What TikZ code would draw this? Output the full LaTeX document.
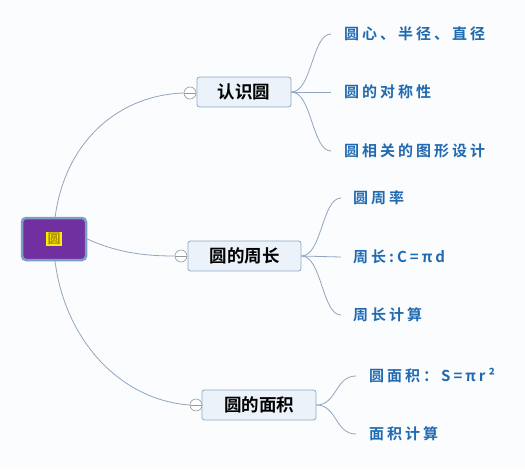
\documentclass[tikz,border=0pt]{standalone}
\usepackage{fontspec}
\newfontfamily\cjk{Noto Sans CJK SC}
\newfontfamily\cjkb{Noto Sans CJK SC Bold}
\newfontfamily\cjkbs[LetterSpace=20]{Noto Sans CJK SC Bold}
\definecolor{bg}{HTML}{FBFCFD}
\definecolor{lin}{HTML}{8EA6C0}
\definecolor{boxfill}{HTML}{EBF2F9}
\definecolor{boxdraw}{HTML}{8FA9C6}
\definecolor{rootfill}{HTML}{7030A0}
\definecolor{rootdraw}{HTML}{7D9DC4}
\definecolor{leafc}{HTML}{1F6AB0}
\definecolor{hl}{HTML}{FFEB00}
\definecolor{hltext}{HTML}{A88A00}
\tikzset{
  conn/.style={draw=lin, line width=0.8pt},
  topic/.style={draw=boxdraw, fill=boxfill, rounded corners=2.5pt, line width=0.8pt, font=\cjkb\fontsize{17.5}{17.5}\selectfont, text=black, inner sep=0pt},
  leaf/.style={font=\cjkbs\fontsize{15}{15}\selectfont, text=leafc, anchor=west, inner sep=0pt},
  knob/.style={circle, draw=gray!80, fill=white, line width=0.6pt, minimum size=12pt, inner sep=0pt},
}
\begin{document}
\begin{tikzpicture}[x=1pt,y=-1pt]
\fill[bg] (0,0) rectangle (525,469);
\useasboundingbox (0,0) rectangle (525,469);
% root
\node[draw=rootdraw, fill=rootfill, line width=2.5pt, rounded corners=4pt, minimum width=64pt, minimum height=42pt, inner sep=0pt] (root) at (54,239) {};
\node[fill=hl, text=hltext, font=\cjkb\fontsize{13}{13}\selectfont, inner sep=1.2pt] (roott) at (root.center) {圆};
% topics
\node[topic, minimum width=94pt, minimum height=30pt] (t1) at (244,92) {认识圆};
\node[topic, minimum width=113pt, minimum height=30pt] (t2) at (244.5,256) {圆的周长};
\node[topic, minimum width=114pt, minimum height=30pt] (t3) at (259,405) {圆的面积};
\node[knob] (k1) at (190,93) {};
\node[knob] (k2) at (181,256) {};
\node[knob] (k3) at (196,405) {};
\draw[gray!80, line width=0.6pt] (k1.west) -- (k1.east) (k2.west) -- (k2.east) (k3.west) -- (k3.east);
% root connectors
\coordinate (rt) at (55,218);
\coordinate (rb) at (55,261);
\draw[conn] (rt) .. controls (65,140) and (120,95) .. (k1.west);
\draw[conn] (root.east) .. controls (120,254) and (150,256) .. (k2.west);
\draw[conn] (rb) .. controls (65,340) and (120,400) .. (k3.west);
% leaves
\node[leaf] (l11) at (344,34) {圆心、半径、直径};
\node[leaf] (l12) at (344,92) {圆的对称性};
\node[leaf] (l13) at (344,151) {圆相关的图形设计};
\node[leaf] (l21) at (353,198) {圆周率};
\node[leaf] (l22) at (353,257) {周长:C=πd};
\node[leaf] (l23) at (353,315) {周长计算};
\node[leaf] (l31) at (369,376) {圆面积：S=πr²};
\node[leaf] (l32) at (369,434) {面积计算};
\coordinate (e11) at (331,34);
\coordinate (e12) at (331,92);
\coordinate (e13) at (331,151);
\coordinate (e21) at (341,198);
\coordinate (e22) at (341,257);
\coordinate (e23) at (341,315);
\coordinate (e31) at (356,376);
\coordinate (e32) at (356,434);
\draw[conn] (t1.east) .. controls (312,92) and (312,34) .. (e11);
\draw[conn] (t1.east) -- (e12);
\draw[conn] (t1.east) .. controls (312,92) and (312,151) .. (e13);
\draw[conn] (t2.east) .. controls (322,256) and (322,198) .. (e21);
\draw[conn] (t2.east) -- (e22);
\draw[conn] (t2.east) .. controls (322,256) and (322,315) .. (e23);
\draw[conn] (t3.east) .. controls (337,405) and (335,376) .. (e31);
\draw[conn] (t3.east) .. controls (337,405) and (335,434) .. (e32);
\end{tikzpicture}
\end{document}
